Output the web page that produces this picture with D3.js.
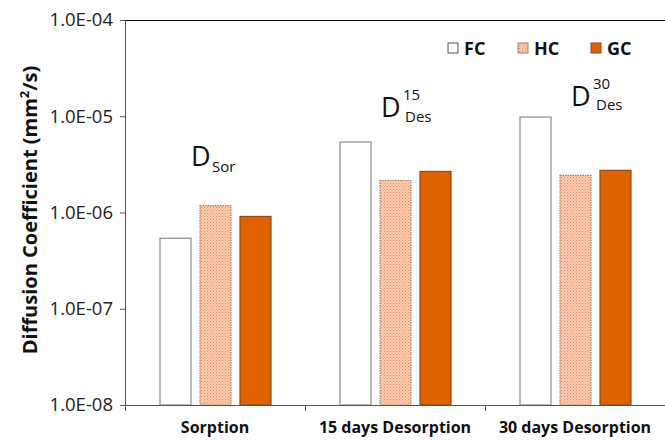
<!DOCTYPE html>
<html><head><meta charset="utf-8">
<script src="https://cdn.jsdelivr.net/npm/d3@7"></script>
<style>body{margin:0;background:#fff}svg{display:block}text{font-family:"Open Sans","Liberation Sans",sans-serif}</style>
</head><body><svg id="c" width="665" height="440"></svg>
<script>
const categories = ["Sorption", "15 days Desorption", "30 days Desorption"];
const seriesNames = ["FC", "HC", "GC"];
const FC = [5.4e-7, 5.4e-6, 9.8e-6];
const HC = [1.18e-6, 2.15e-6, 2.43e-6];
const GC = [9.1e-7, 2.67e-6, 2.74e-6];
const yTicks = [1e-8, 1e-7, 1e-6, 1e-5, 1e-4];
const yTickLabels = ["1.0E-08", "1.0E-07", "1.0E-06", "1.0E-05", "1.0E-04"];

const svg = d3.select("#c");
const m = {l:125, r:665, t:20, b:405};
const defs = svg.append("defs");
const pat = defs.append("pattern").attr("id","hc").attr("width",3).attr("height",3).attr("patternUnits","userSpaceOnUse");
pat.append("rect").attr("width",3).attr("height",3).attr("fill","#fbcdb2");
pat.append("rect").attr("width",1).attr("height",1).attr("fill","#f08a5a");
pat.append("rect").attr("x",1.5).attr("y",1.5).attr("width",1).attr("height",1).attr("fill","#f29a70");

const x = d3.scaleBand().domain(categories).range([m.l, m.r]);
const xs = d3.scaleBand().domain(seriesNames).range([0, x.bandwidth()]).paddingInner(0.225).paddingOuter(0.8625);
const y = d3.scaleLog().domain([1e-8, 1e-4]).range([m.b, m.t]);

const styles = {
  FC: {fill:"#ffffff", stroke:"#8c8c8c", dash:null},
  HC: {fill:"url(#hc)", stroke:"#a08070", dash:"1.5,1"},
  GC: {fill:"#e06100", stroke:"#8a4a1e", dash:null}
};
const data = {FC, HC, GC};

// top border
svg.append("line").attr("x1",m.l).attr("x2",m.r).attr("y1",m.t+0.5).attr("y2",m.t+0.5).attr("stroke","#111").attr("stroke-width",1.2);

// bars
seriesNames.forEach(s => {
  svg.append("g").selectAll("rect").data(categories).join("rect")
    .attr("x", c => x(c) + xs(s) + 0.5)
    .attr("y", (c,i) => y(data[s][i]))
    .attr("width", xs.bandwidth())
    .attr("height", (c,i) => m.b - y(data[s][i]))
    .attr("fill", styles[s].fill)
    .attr("stroke", styles[s].stroke)
    .attr("stroke-width", 1.2)
    .attr("stroke-dasharray", styles[s].dash);
});

// y axis
const ya = svg.append("g").attr("transform",`translate(${m.l},0)`)
  .call(d3.axisLeft(y).tickValues(yTicks).tickFormat((d,i)=>yTickLabels[i]).tickSize(5).tickPadding(7));
ya.select(".domain").attr("stroke","#555");
ya.selectAll(".tick line").attr("stroke","#555");
ya.selectAll("text").attr("font-size",18.5).attr("fill","#222");

// x axis
const xa = svg.append("g").attr("transform",`translate(0,${m.b})`)
  .call(d3.axisBottom(x).tickSize(0).tickPadding(17));
xa.select(".domain").attr("stroke","#555");
xa.selectAll("text").attr("font-size",16).attr("font-weight","bold").attr("fill","#111");
svg.append("g").selectAll("line").data(categories).join("line")
  .attr("x1", c => x(c)+0.5).attr("x2", c => x(c)+0.5)
  .attr("y1", m.b).attr("y2", m.b+6).attr("stroke","#555");

// y label
svg.append("text").attr("transform","translate(37,210) rotate(-90)").attr("text-anchor","middle")
  .attr("font-size",20).attr("font-weight","bold").attr("fill","#111")
  .html('Diffusion Coefficient (mm<tspan dy="-8" font-size="13">2</tspan><tspan dy="8">/s)</tspan>');

// legend
const leg = [[448,"FC"],[518,"HC"],[591,"GC"]];
leg.forEach(([lx,s]) => {
  svg.append("rect").attr("x",lx).attr("y",43).attr("width",10).attr("height",10)
    .attr("fill",styles[s].fill).attr("stroke",s==="FC"?"#555":styles[s].stroke).attr("stroke-width",1);
  svg.append("text").attr("x",lx+16).attr("y",55).attr("font-size",18).attr("font-weight","bold").attr("fill","#111").text(s);
});

// annotations
function ann(ax, ay, sup, sub, subDx, subDy){
  const g = svg.append("g");
  g.append("text").attr("x",ax).attr("y",ay).attr("font-size",27).attr("fill","#111").text("D");
  if (sup) g.append("text").attr("x",ax+22).attr("y",ay-17).attr("font-size",15).attr("fill","#111").text(sup);
  g.append("text").attr("x",ax+subDx).attr("y",ay+subDy).attr("font-size",15).attr("fill","#111").text(sub);
}
ann(191, 166, null, "Sor", 21, 6);
ann(381, 117, "15", "Des", 24, 5);
ann(571, 106, "30", "Des", 25, 4);
</script></body></html>
